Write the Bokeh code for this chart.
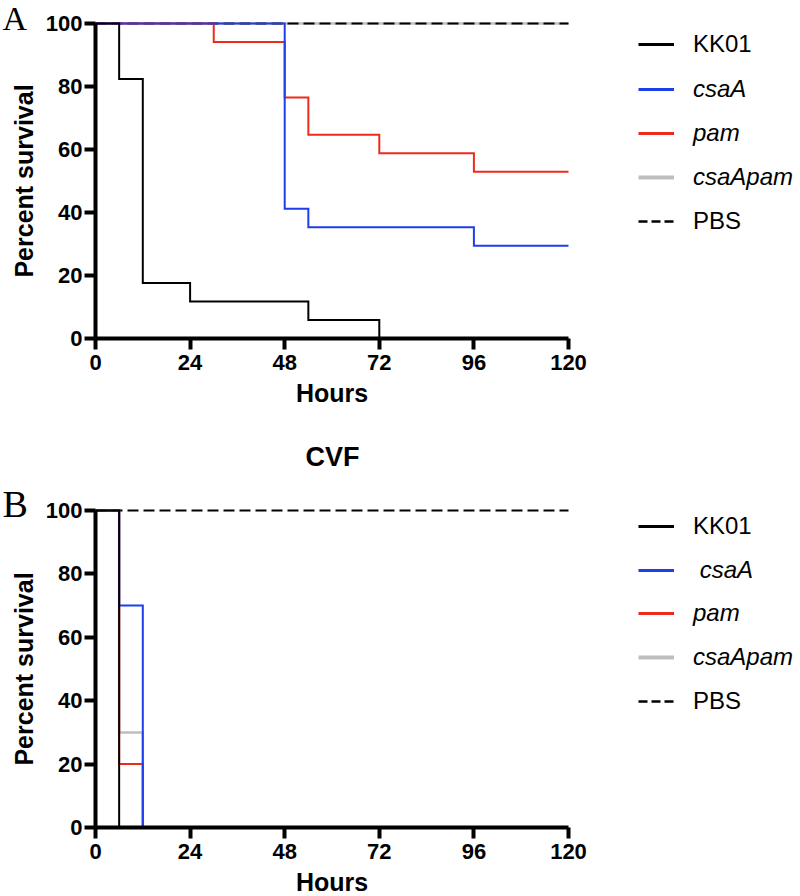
from bokeh.plotting import figure
from bokeh.models import Range1d, FixedTicker, Legend, LegendItem, Label
from bokeh.layouts import column
from bokeh.embed import file_html
from bokeh.resources import INLINE

# ---------------- data ----------------
hour_ticks = [0, 24, 48, 72, 96, 120]
pct_ticks = [0, 20, 40, 60, 80, 100]

series_names = ["KK01", "csaA", "pam", "csaApam", "PBS"]

# Panel A
a_kk01_t = [0, 6, 12, 24, 54, 72]
a_kk01_s = [100, 82.35, 17.65, 11.76, 5.88, 0]
a_csaA_t = [0, 48, 54, 96, 120]
a_csaA_s = [100, 41.18, 35.29, 29.41, 29.41]
a_pam_t = [0, 30, 48, 54, 72, 96, 120]
a_pam_s = [100, 94.12, 76.47, 64.71, 58.82, 52.94, 52.94]
a_csaApam_t = [0, 120]
a_csaApam_s = [100, 100]
a_pbs_t = [0, 120]
a_pbs_s = [100, 100]

# Panel B (CVF)
b_kk01_t = [0, 6]
b_kk01_s = [100, 0]
b_csaA_t = [0, 6, 12]
b_csaA_s = [100, 70, 0]
b_pam_t = [0, 6, 12]
b_pam_s = [100, 20, 0]
b_csaApam_t = [0, 6, 12]
b_csaApam_s = [100, 30, 0]
b_pbs_t = [0, 120]
b_pbs_s = [100, 100]

# ---------------- styles ----------------
COL = {"KK01": "#000000", "csaA": "#1E3DEB", "pam": "#EE2A1B",
       "csaApam": "#BEBEBE", "PBS": "#000000"}
SANS = "Liberation Sans"
SERIF = "Liberation Serif"

FW = 800                 # frame spans the whole width
X0_PX = 95               # pixel of hour 0
PX_PER_H = 473 / 120.0   # pixels per hour


def make_panel(curves, page_top, height, y100, y0, rows, labels, letter,
               letter_base, letter_size, title=None, title_base=None,
               title_size=27):
    """page_top/height: page rows of the figure; y100/y0: page rows of 100 % and 0 %."""
    ppu = (y0 - y100) / 100.0
    bottom = page_top + height
    x_start = -X0_PX / PX_PER_H
    x_end = (FW - X0_PX) / PX_PER_H
    y_end = 100 + (y100 - page_top) / ppu
    y_start = -(bottom - y0) / ppu
    p = figure(frame_width=FW, frame_height=height,
               min_border=0,
               x_range=Range1d(x_start, x_end), y_range=Range1d(y_start, y_end),
               output_backend="svg", toolbar_location=None)
    p.outline_line_color = None
    p.xgrid.visible = False
    p.ygrid.visible = False
    p.background_fill_color = "white"
    p.border_fill_color = "white"

    def sy(page_y):
        return bottom - page_y

    # draw order: gray, PBS, red, blue, black
    t, s = curves["csaApam"]
    p.step(t, s, mode="after", line_color=COL["csaApam"], line_width=2.5, line_join="miter")
    t, s = curves["PBS"]
    p.step(t, s, mode="after", line_color=COL["PBS"], line_width=2, line_dash="11 5")
    t, s = curves["pam"]
    p.step(t, s, mode="after", line_color=COL["pam"], line_width=2, line_join="miter")
    t, s = curves["csaA"]
    p.step(t, s, mode="after", line_color=COL["csaA"], line_width=2, line_join="miter")
    t, s = curves["KK01"]
    p.step(t, s, mode="after", line_color=COL["KK01"], line_width=2, line_join="miter")

    # axes (anchored at the data origin, inside the full-size frame)
    for ax in (p.xaxis[0], p.yaxis[0]):
        ax.fixed_location = 0
        ax.axis_line_width = 4
        ax.axis_line_color = "black"
        ax.major_tick_line_width = 4
        ax.major_tick_line_color = "black"
        ax.major_tick_out = 11
        ax.major_tick_in = 0
        ax.minor_tick_out = 0
        ax.minor_tick_in = 0
        ax.major_label_text_font = SANS
        ax.major_label_text_font_style = "bold"
        ax.major_label_text_font_size = "22px"
        ax.major_label_text_color = "black"
        ax.axis_label_text_font = SANS
        ax.axis_label_text_font_style = "bold"
        ax.axis_label_text_font_size = "25px"
        ax.axis_label_text_color = "black"
    p.xaxis.bounds = (0, 120)
    p.yaxis.bounds = (0, 100)
    p.xaxis.ticker = FixedTicker(ticks=hour_ticks)
    p.yaxis.ticker = FixedTicker(ticks=pct_ticks)
    p.xaxis.axis_label = "Hours"
    p.yaxis.axis_label = "Percent survival"
    p.yaxis.major_label_standoff = 2
    p.yaxis.axis_label_standoff = 5
    p.xaxis.major_label_standoff = 5
    p.xaxis.axis_label_standoff = 6

    # legends (one per row, so that some labels can be italic)
    legend_style = {
        "KK01": ("normal", 3, "solid"),
        "csaA": ("italic", 3, "solid"),
        "pam": ("italic", 3, "solid"),
        "csaApam": ("italic", 4, "solid"),
        "PBS": ("normal", 2.5, "9 4"),
    }
    for name, lab, yc in zip(series_names, labels, rows):
        style, lw, dash = legend_style[name]
        # legend-only line, kept outside the visible ranges
        r = p.line([-500, -499], [-500, -500], line_color=COL[name],
                   line_width=lw, line_dash=dash)
        leg = Legend(items=[LegendItem(label=lab, renderers=[r])],
                     location=(638, sy(yc) - 13), glyph_width=36, glyph_height=26,
                     label_height=26, label_standoff=19, padding=0, margin=0,
                     border_line_color=None, background_fill_alpha=0,
                     label_text_font=SANS, label_text_font_size="24px",
                     label_text_font_style=style, label_text_color="black")
        p.add_layout(leg)

    # empirical correction for where the alphabetic baseline lands
    lsz = float(letter_size.replace("px", ""))
    p.add_layout(Label(x=2, y=sy(letter_base - 0.36 * lsz), x_units="screen",
                       y_units="screen", text=letter, text_font=SERIF,
                       text_font_size=letter_size, text_baseline="alphabetic",
                       text_align="left", text_color="black"))
    if title:
        p.add_layout(Label(x=332, y=sy(title_base - 0.36 * title_size),
                           x_units="screen", y_units="screen",
                           text=title, text_font=SANS,
                           text_font_size=f"{title_size}px",
                           text_font_style="bold", text_baseline="alphabetic",
                           text_align="center", text_color="black"))
    return p


curves_a = {"KK01": (a_kk01_t, a_kk01_s), "csaA": (a_csaA_t, a_csaA_s),
            "pam": (a_pam_t, a_pam_s), "csaApam": (a_csaApam_t, a_csaApam_s),
            "PBS": (a_pbs_t, a_pbs_s)}
curves_b = {"KK01": (b_kk01_t, b_kk01_s), "csaA": (b_csaA_t, b_csaA_s),
            "pam": (b_pam_t, b_pam_s), "csaApam": (b_csaApam_t, b_csaApam_s),
            "PBS": (b_pbs_t, b_pbs_s)}

labels_a = ["KK01", "csaA", "pam", "csaApam", "PBS"]
labels_b = ["KK01", " csaA", "pam", "csaApam", "PBS"]

pA = make_panel(curves_a, 0, 410, 23, 338, [45, 90, 134, 178, 222], labels_a,
                "A", 30, "34px")
pB = make_panel(curves_b, 410, 484, 510, 827, [527, 571, 614, 658, 702], labels_b,
                "B", 517, "38px", title="CVF", title_base=466, title_size=27)

layout = column(pA, pB)
open("out.html", "w").write(file_html(layout, INLINE))
